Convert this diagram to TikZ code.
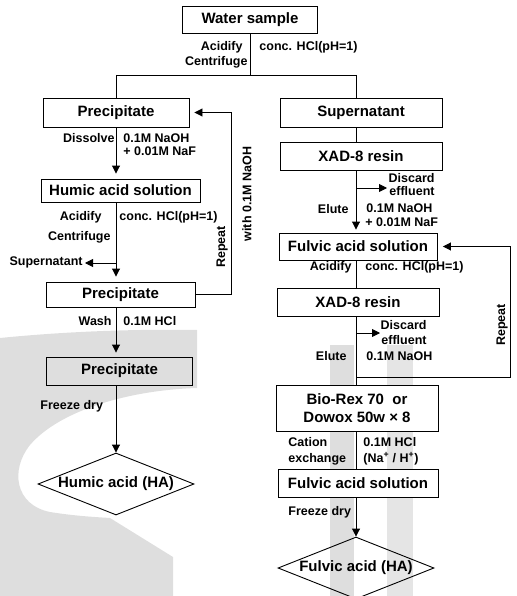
\documentclass[tikz,border=0pt]{standalone}
\usepackage{fontspec}
\setmainfont{Liberation Sans}
\usetikzlibrary{arrows.meta,shapes.geometric}
\definecolor{wm}{gray}{0.87}
\definecolor{wmb}{gray}{0.9}
\begin{document}
\begin{tikzpicture}[x=1pt,y=-1pt,line width=0.9pt,
  box/.style={draw, fill=white, inner sep=0pt, font=\bfseries\fontsize{15}{18.5}\selectfont, align=center},
  dia/.style={draw, shape=diamond, aspect=2.5, inner sep=0pt, minimum width=156pt, minimum height=62pt, font=\bfseries\fontsize{15}{18}\selectfont},
  lbl/.style={inner sep=0pt, font=\bfseries\fontsize{12.5}{14}\selectfont},
  arr/.style={-{Triangle[width=8pt,length=8pt]}}]
\useasboundingbox (0,0) rectangle (516,596);
% watermark
\fill[wm] (0,338) .. controls (70,331) and (140,329) .. (197,330) -- (197,388)
  .. controls (130,390) and (60,410) .. (30,445)
  .. controls (10,470) and (15,505) .. (50,512)
  .. controls (75,516) and (95,517) .. (110,518) -- (173,557) -- (173,596) -- (0,596) -- cycle;
\fill[wm] (330,345) rectangle (354,596);
\fill[wmb] (387,345) rectangle (413,596);
% column coordinates
\coordinate (cL) at (116,0);
\coordinate (cR) at (356,0);
\coordinate (jM) at (250,75);
\coordinate (jL) at (116,75);
\coordinate (jR) at (356,75);
\coordinate (loopL) at (231,0);
\coordinate (loopR) at (510,0);
% boxes
\node[box, minimum width=135pt, minimum height=27pt] (ws) at (250,19.5) {Water sample};
\node[box, minimum width=146pt, minimum height=29pt] (p1) at (116,112.5) {Precipitate};
\node[box, minimum width=162pt, minimum height=29pt] (sup) at (361,112.5) {Supernatant};
\node[box, minimum width=159pt, minimum height=23pt] (hum) at (120.5,190.5) {Humic acid solution};
\node[box, minimum width=149pt, minimum height=25pt] (p2) at (120.5,294.5) {Precipitate};
\node[box, fill=wm, minimum width=146pt, minimum height=28pt] (p3) at (119.5,371) {Precipitate};
\node[dia] (ha) at (116,484) {Humic acid (HA)};
\node[box, minimum width=162pt, minimum height=28pt] (xad1) at (361,156) {XAD-8 resin};
\node[box, minimum width=158pt, minimum height=27pt] (fa1) at (358,246.5) {Fulvic acid solution};
\node[box, minimum width=162pt, minimum height=28pt] (xad2) at (358,302) {XAD-8 resin};
\node[box, minimum width=162pt, minimum height=46pt] (bio) at (357,408) {Bio-Rex 70\ \ or\\Dowox 50w × 8};
\node[box, minimum width=160pt, minimum height=28pt] (fa2) at (358,483) {Fulvic acid solution};
\node[dia] (fha) at (356,568) {Fulvic acid (HA)};
% top split
\draw (ws.south) -- (jM);
\draw (jL) -- (jR);
\draw (jL) -- (cL |- p1.north);
\draw (jR) -- (cR |- sup.north);
\node[lbl, anchor=mid east] (l1) at (243,48) {Acidify};
\node[lbl, anchor=mid east] (l2) at (248,63) {Centrifuge};
\node[lbl, anchor=mid west] (l3) at (259,48) {conc. HCl(pH=1)};
% left column
\draw[arr, shorten >=5pt] (cL |- p1.south) -- (cL |- hum.north);
\node[lbl, anchor=mid east] (l4) at (115,140) {Dissolve};
\node[lbl, anchor=mid west] (l5) at (123,140) {0.1M NaOH};
\node[lbl, anchor=mid west] (l6) at (123,153) {+ 0.01M NaF};
\draw[arr, shorten >=5pt] (cL |- hum.south) -- (cL |- p2.north);
\node[lbl, anchor=mid east] (l7) at (102,218) {Acidify};
\node[lbl, anchor=mid west] (l8) at (119,218) {conc. HCl(pH=1)};
\node[lbl, anchor=mid east] (l9) at (111,238) {Centrifuge};
\node[lbl, anchor=mid east] (supL) at (83,263) {Supernatant};
\coordinate (bs) at (116,263);
\draw[arr, shorten >=2pt] (bs) -- (supL.mid east);
\draw[arr, shorten >=4pt] (cL |- p2.south) -- (cL |- p3.north);
\node[lbl, anchor=mid east] (l10) at (112,323) {Wash};
\node[lbl, anchor=mid west] (l11) at (123,323) {0.1M HCl};
\draw[arr] (cL |- p3.south) -- (ha.north);
\node[lbl, anchor=mid west] (l12) at (40,407) {Freeze dry};
% left loop
\draw[arr, shorten >=5pt] (p2.east) -- (p2.east -| loopL) -- (p1.east -| loopL) -- (p1.east);
\node[lbl, rotate=90] (l13) at (222,247) {Repeat};
\node[lbl, rotate=90] (l14) at (247,194) {with 0.1M NaOH};
% right column
\draw (cR |- sup.south) -- (cR |- xad1.north);
\draw[arr, shorten >=3pt] (cR |- xad1.south) -- (cR |- fa1.north);
\coordinate (d1) at (356,188);
\coordinate (d1e) at (387,188);
\draw[arr] (d1) -- (d1e);
\node[lbl, anchor=mid east] (l15) at (435,179.5) {Discard};
\node[lbl, anchor=mid east] (l16) at (435,193) {effluent};
\node[lbl, anchor=mid east] (l17) at (349,211) {Elute};
\node[lbl, anchor=mid west] (l18) at (366,210) {0.1M NaOH};
\node[lbl, anchor=mid west] (l19) at (365,223.5) {+ 0.01M NaF};
\draw (cR |- fa1.south) -- (cR |- xad2.north);
\node[lbl, anchor=mid east] (l20) at (352,268) {Acidify};
\node[lbl, anchor=mid west] (l21) at (365,268) {conc. HCl(pH=1)};
\draw (cR |- xad2.south) -- (cR |- bio.north);
\coordinate (d2) at (356,333);
\coordinate (d2e) at (380,333);
\draw[arr] (d2) -- (d2e);
\node[lbl, anchor=mid east] (l22) at (427,327) {Discard};
\node[lbl, anchor=mid east] (l23) at (427,342) {effluent};
\node[lbl, anchor=mid east] (l24) at (347,358) {Elute};
\node[lbl, anchor=mid west] (l25) at (366,358) {0.1M NaOH};
% right loop
\coordinate (lp) at (356,377);
\draw[arr, shorten >=5.5pt] (lp) -- (lp -| loopR) -- (fa1.east -| loopR) -- (fa1.east);
\node[lbl, rotate=90] (l26) at (502,325) {Repeat};
\draw (cR |- bio.south) -- (cR |- fa2.north);
\node[lbl, anchor=mid west] (l27) at (288,444) {Cation};
\node[lbl, anchor=mid west] (l28) at (288,459.5) {exchange};
\node[lbl, anchor=mid west] (l29) at (363,444) {0.1M HCl};
\node[lbl, anchor=mid west] (l30) at (363,459.5) {(Na\textsuperscript{+} / H\textsuperscript{+})};
\draw[arr] (cR |- fa2.south) -- (fha.north);
\node[lbl, anchor=mid west] (l31) at (288,513) {Freeze dry};
\end{tikzpicture}
\end{document}
